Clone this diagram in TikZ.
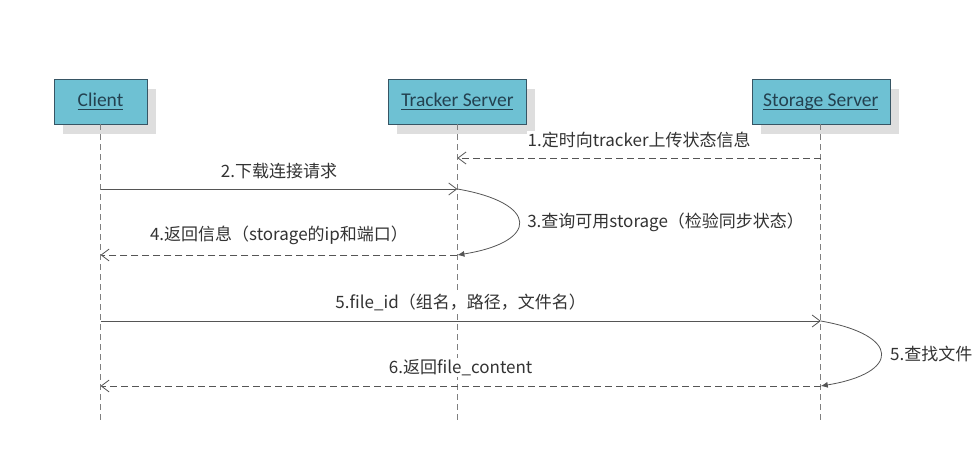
\documentclass[tikz,border=0pt]{standalone}
\usepackage{fontspec}
\setmainfont{Carlito}
\newfontfamily\cjk{Noto Sans CJK SC}
\usetikzlibrary{arrows.meta,positioning,shadows}
\definecolor{headfill}{RGB}{110,193,211}
\definecolor{headline}{RGB}{55,85,100}
\definecolor{headtext}{RGB}{35,65,80}
\definecolor{msgline}{RGB}{85,85,85}
\newsavebox\headbox
\newcommand\headname[1]{\sbox\headbox{#1}%
  \rlap{\rule[-3.5pt]{\wd\headbox}{1pt}}\usebox\headbox}

\begin{document}
\begin{tikzpicture}[x=1pt, y=-1pt,
  font=\cjk\fontsize{17}{19}\selectfont, node distance=4mm,
  head/.style={draw=headline, fill=headfill, minimum width=138pt,
               minimum height=45pt, inner sep=2pt, text=headtext,
               font=\rmfamily\fontsize{19.5}{22}\selectfont,
               drop shadow={shadow xshift=9pt, shadow yshift=-10pt,
                            fill=black!13, opacity=1}},
  life/.style={draw=black!50, line width=0.8pt, dash pattern=on 6pt off 4pt},
  msg/.style={draw=msgline, line width=0.8pt, ->},
  reply/.style={msg, dash pattern=on 7pt off 4pt},
  self/.style={draw=msgline, line width=0.8pt, -{Latex[length=7pt,width=6pt]}},
  lbl/.style={fill=white, text=black!80, inner sep=1pt},
  >={Straight Barb[length=8pt,width=12pt]}]
\useasboundingbox (0,0) rectangle (977,454);
\node[head, minimum width=93pt] (client) at (100.5,101.5) {\headname{Client}};
\node[head, right=241pt of client] (tracker) {\headname{Tracker Server}};
\node[head, right=225pt of tracker] (storage) {\headname{Storage Server}};
\coordinate (sync) at (0,158);
\coordinate (req) at (0,189);
\coordinate (ret) at (0,255);
\coordinate (fid) at (0,321);
\coordinate (back) at (0,386);
\coordinate (stop) at (0,420);
\draw[life] (client.south) -- (client |- stop);
\draw[life] (tracker.south) -- (tracker |- stop);
\draw[life] (storage.south) -- (storage |- stop);
\draw[reply] (storage |- sync) -- (tracker |- sync)
  node[lbl, midway, above=9pt]{1.定时向tracker上传状态信息};
\draw[msg] (client |- req) -- (tracker |- req)
  node[lbl, midway, above=9pt]{2.下载连接请求};
\draw[self] (tracker |- req) .. controls +(82,14) and +(82,-13) .. (tracker |- ret)
  node[lbl, pos=0.5, right=7pt]{3.查询可用storage（检验同步状态）};
\draw[reply] (tracker |- ret) -- (client |- ret)
  node[lbl, midway, above=9pt]{4.返回信息（storage的ip和端口）};
\draw[msg] (client |- fid) -- (storage |- fid)
  node[lbl, midway, above=9pt]{5.file\_id（组名，路径，文件名）};
\draw[self] (storage |- fid) .. controls +(80,14) and +(80,-13) .. (storage |- back)
  node[lbl, pos=0.5, right=8pt]{5.查找文件};
\draw[reply] (storage |- back) -- (client |- back)
  node[lbl, midway, above=9pt]{6.返回file\_content};
\end{tikzpicture}
\end{document}
